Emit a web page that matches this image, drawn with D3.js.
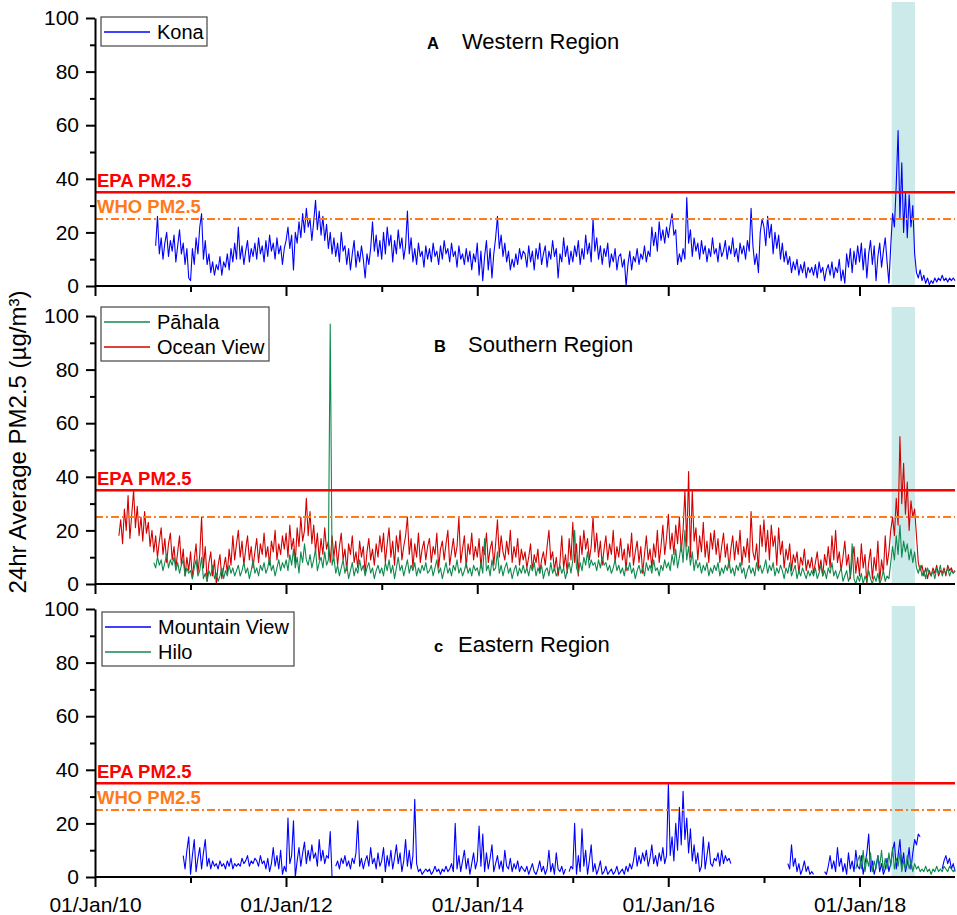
<!DOCTYPE html>
<html><head><meta charset="utf-8">
<script src="https://cdn.jsdelivr.net/npm/d3@7"></script>
<style>body{margin:0;background:#fff}svg{display:block}</style>
</head><body>
<svg id="chart" width="957" height="915"></svg>
<script>
const _ = null;
// ---------- data ----------
const weekOrigin = "2010-01-01";          // index 0 of every weekly series
const stepDays = 365.25 / 52;             // one step = one week (26 steps = half a year)
const xDomain = ["2010-01-01", "2019-01-01"];
const yTicks = [0, 20, 40, 60, 80, 100];
const yMinorTicks = [10, 30, 50, 70, 90];
const xMajorTicks = ["2010-01-01", "2012-01-01", "2014-01-01", "2016-01-01", "2018-01-01"];
const xMinorTicks = ["2011-01-01", "2013-01-01", "2015-01-01", "2017-01-01"];
const xTickLabels = ["01/Jan/10", "01/Jan/12", "01/Jan/14", "01/Jan/16", "01/Jan/18"];
const epaLimit = 35;
const whoLimit = 25;
const eruptionPeriod = ["2018-05-04", "2018-08-01"];
const panelLetters = ["A", "B", "c"];
const panelTitles = ["Western Region", "Southern Region", "Eastern Region"];
const yAxisTitle = "24hr Average PM2.5 (µg/m³)";

// weekly 24hr-average PM2.5, one line = half a year
const konaFirstWeek = 26;
const kona = [
 _,_,_,_,_,_,_,15,26,12,18,10,16,20,11,17,13,19,9,15,21,12,16,8,14,3,
 2,14,8,18,12,22,27,10,17,8,12,5,9,4,8,6,11,4,9,7,12,6,14,9,16,10,
 22,10,15,8,13,17,9,14,11,16,10,18,12,15,9,17,11,19,13,16,10,18,12,15,8,14,
 17,22,14,19,6,20,16,24,18,27,20,29,22,25,17,24,32,21,28,19,26,17,23,14,20,12,
 18,11,16,9,20,13,15,8,14,6,12,17,7,13,9,15,10,3,12,8,14,24,13,19,11,17,
 10,20,12,22,15,19,9,17,12,21,14,18,10,15,28,12,18,9,14,8,16,11,13,7,15,10,
 14,9,16,11,13,8,15,10,17,12,14,9,16,11,13,7,15,10,12,8,14,9,13,6,12,9,
 16,4,13,2,11,17,6,14,3,12,18,26,14,19,11,16,9,13,6,10,7,12,8,14,10,13,
 12,7,15,9,13,6,14,10,16,8,12,15,7,13,10,17,11,14,3,12,9,18,11,15,8,13,
 9,15,11,17,8,14,10,19,12,16,9,25,13,18,10,15,8,14,11,16,7,12,9,14,6,11,
 12,7,10,0,8,13,6,11,9,14,8,12,10,15,9,13,11,22,15,20,13,24,17,21,16,22,
 18,23,27,19,21,8,12,9,14,10,33,16,21,11,18,13,16,10,17,12,15,9,14,11,18,12,
 14,9,16,11,13,17,10,15,12,18,11,14,9,16,12,15,10,17,13,29,15,8,12,5,20,25,
 22,15,26,18,23,12,20,14,19,10,16,9,13,8,11,5,9,6,10,4,8,5,9,3,7,5,
 7,4,8,3,9,5,7,2,6,8,4,9,3,7,5,10,2,6,1,12,7,14,5,13,8,15,
 9,16,6,14,3,12,17,8,15,2,11,16,7,13,18,9,1,15,27,22,38,58,25,46,20,35,
 18,34,22,30,12,5,3,6,2,4,1,3,0.5,2,1,3,1.5,3,2,4,2,3,1.5,3,2,3,
 2
];
const oceanViewFirstWeek = 0;
const oceanView = [
 _,_,_,_,_,_,_,_,_,_,_,_,_,18,24,15,28,20,33,17,26,35,21,29,18,25,
 16,27,19,23,14,20,12,18,10,16,21,11,17,8,15,19,9,14,6,12,18,7,13,3,10,5,
 12,2,9,15,4,11,25,6,14,1,8,12,3,9,0,7,11,2,6,10,4,13,7,18,9,15,
 20,10,16,7,13,18,9,14,6,12,17,8,15,11,19,10,14,7,16,12,20,9,15,11,18,13,
 19,10,22,13,17,8,21,14,25,16,20,32,18,27,15,22,12,19,9,17,11,21,13,16,8,18,
 10,16,7,14,19,9,13,5,15,11,18,8,12,6,16,10,14,4,12,17,9,13,7,15,10,18,
 12,19,8,15,21,10,16,7,18,12,20,9,14,18,25,11,17,6,15,10,19,8,13,16,9,14,
 17,8,14,11,19,6,13,16,9,15,20,7,12,17,10,14,25,8,13,18,6,15,11,19,9,14,
 10,17,6,14,11,19,8,13,16,7,15,24,10,18,12,9,16,11,20,8,14,10,17,7,13,9,
 12,6,10,15,5,11,8,13,4,9,12,7,14,20,9,12,5,10,3,8,18,6,11,4,17,9,
 23,8,15,3,18,11,20,13,17,9,14,25,12,19,10,16,7,13,18,9,15,11,20,8,14,10,
 17,9,13,5,15,10,19,7,12,16,8,14,4,11,18,9,13,6,15,10,20,8,14,22,11,17,
 26,13,19,11,22,15,25,12,20,35,14,42,10,35,16,21,9,18,12,23,10,16,8,19,13,20,
 11,17,8,14,19,10,15,6,13,18,9,16,11,20,7,14,10,17,8,27,12,9,15,5,22,14,
 24,12,20,9,22,14,18,7,21,11,16,6,13,9,15,5,11,8,12,4,10,7,13,5,9,6,
 10,4,8,12,5,9,3,11,7,14,6,18,9,20,8,12,5,10,16,7,11,2,9,14,4,10,
 3,15,6,11,0,8,13,2,10,5,16,1,9,4,18,7,12,20,25,18,32,22,55,30,45,26,
 38,20,31,25,28,18,8,5,7,3,6,2,5,3,6,4,7,3,5,4,6,3,7,5,6,4,
 5
];
const pahalaFirstWeek = 26;
const pahala = [
 _,_,_,_,_,_,8,6,10,7,9,5,8,11,6,9,7,10,5,8,4,7,9,3,6,4,
 5,2,6,9,3,5,10,2,4,1,5,3,7,2,4,1,3,6,2,5,3,7,4,6,3,5,
 7,3,5,8,4,6,2,5,9,4,6,3,7,5,8,4,6,10,5,7,3,6,9,5,8,6,
 9,5,11,7,13,6,10,4,12,8,15,9,7,11,6,9,13,5,8,10,6,12,7,9,97,7,
 10,4,7,3,6,9,4,7,2,5,8,3,6,4,9,5,7,3,6,8,4,6,2,5,7,4,
 6,3,8,5,9,4,7,2,6,10,5,7,3,6,9,4,7,5,8,3,6,4,7,5,8,4,
 5,7,3,6,9,4,6,2,5,8,4,6,3,7,5,9,4,6,3,5,8,4,6,3,7,5,
 6,3,8,4,17,5,7,3,9,5,6,12,4,7,3,6,8,4,6,2,5,7,3,6,4,7,
 4,6,3,7,5,8,3,6,4,7,2,5,6,3,8,4,6,3,5,7,4,6,2,5,8,4,
 9,20,6,4,8,5,10,7,12,6,9,7,8,5,9,6,10,7,8,5,7,4,6,9,5,7,
 4,6,3,7,5,8,4,6,2,5,7,4,6,3,8,5,7,4,9,5,6,3,7,5,9,6,
 8,5,11,7,13,6,10,15,8,20,9,14,7,12,5,9,6,8,4,7,5,8,3,6,4,7,
 5,8,3,6,4,7,5,9,4,6,3,7,5,8,4,6,2,5,7,4,6,3,8,5,7,4,
 6,9,4,7,5,8,3,6,4,7,5,2,6,4,8,3,5,7,2,5,3,6,4,2,5,3,
 5,3,6,2,4,7,3,5,2,6,4,8,3,5,2,4,6,1,3,5,1,3,15,2,0,3,
 1,4,0,3,1,5,2,0,3,1,4,0,2,5,1,3,2,8,14,9,18,11,22,10,16,12,
 15,9,13,8,12,6,4,7,3,5,2,6,4,3,5,2,6,4,7,3,5,4,6,3,5,4,
 5
];
const mountainViewFirstWeek = 26;
const mountainView = [
 _,_,_,_,_,_,_,_,_,_,_,_,_,_,_,_,_,_,_,_,_,_,8,3,10,15,
 1,8,14,2,7,11,3,9,14,4,7,3,6,4,5,3,6,4,5,3,6,4,7,3,5,4,
 5,4,7,5,6,8,4,6,5,7,6,4,8,5,6,3,7,2,5,11,4,8,3,10,1,4,
 2,22,5,8,21,0,6,11,4,9,13,5,10,6,12,7,9,4,14,6,10,5,8,7,17,0,
 _,4,6,3,7,5,8,4,6,3,7,5,9,21,4,7,3,6,8,4,11,5,7,3,9,4,
 6,11,2,8,4,10,3,7,12,5,9,2,6,14,4,10,3,8,29,5,2,3,1,2,3,2,
 3,1,2,4,2,3,1,3,2,4,2,3,5,2,20,3,8,2,6,10,3,7,1,5,9,3,
 6,19,4,16,2,9,3,7,12,2,5,8,3,6,2,10,4,3,7,2,5,3,6,2,4,3,
 2,4,1,3,5,2,1,3,6,2,4,1,3,10,2,5,1,9,3,2,4,1,3,_,2,4,
 3,20,1,8,2,18,4,10,1,6,12,2,5,1,3,6,1,2,4,1,2,3,1,2,4,1,
 2,3,1,4,2,5,3,6,11,4,8,5,9,6,10,4,7,12,5,8,4,9,6,11,5,8,
 35,8,15,6,20,10,26,12,32,14,22,9,18,6,12,5,9,2,4,15,3,8,13,5,4,7,
 6,9,4,10,5,8,6,7,5,_,_,_,_,_,_,_,_,_,_,_,_,_,_,_,_,_,
 _,_,_,_,_,_,_,_,_,_,_,_,_,5,3,12,4,7,2,5,1,3,6,2,4,1,
 2,1,_,_,1,_,_,2,1,4,8,3,6,2,11,4,7,2,5,1,9,3,6,2,10,4,
 3,8,1,5,9,16,2,6,1,4,8,2,5,1,3,7,2,5,10,13,3,8,14,4,9,2,
 5,11,3,9,14,12,16,15,_,_,_,_,_,_,_,_,_,_,_,3,6,8,5,7,3,5,
 2
];
const hiloFirstWeek = 390;
const hilo = [
 _,_,_,_,_,_,_,_,_,_,_,_,_,_,_,_,_,_,_,_,_,_,_,_,3,6,
 8,3,10,2,7,4,9,2,6,3,8,4,10,2,7,3,9,4,11,3,7,4,9,2,6,3,
 8,3,6,2,5,3,4,2,3,2,4,2,3,1,3,2,4,2,3,2,4,3,2,4,3,2,
 3
];

// ---------- layout / style ----------
const FONT = "'Liberation Sans', Arial, Helvetica, sans-serif";
const BLUE = "#0000ff", GREEN = "#0f8a4e", RED = "#d40000";
const EPA_COLOR = "#ff0000", WHO_COLOR = "#ff7a1a";
const LEFT = 95, RIGHT = 955;
const panels = [
  { top: 18, bottom: 286, shadeTop: 2, letterX: 427, titleX: 462, titleY: 49, whoLabel: true,
    legend: { x: 101, y: 17, w: 106 },
    series: [{ name: "Kona", values: kona, first: konaFirstWeek, color: BLUE }] },
  { top: 316, bottom: 584, shadeTop: 307, letterX: 434, titleX: 468, titleY: 352, whoLabel: false,
    legend: { x: 101, y: 307, w: 168 },
    series: [{ name: "Pāhala", values: pahala, first: pahalaFirstWeek, color: GREEN },
             { name: "Ocean View", values: oceanView, first: oceanViewFirstWeek, color: RED }],
    drawOrder: [1, 0] },
  { top: 609, bottom: 877, shadeTop: 606, letterX: 434, titleX: 458, titleY: 652, whoLabel: true,
    legend: { x: 102, y: 612, w: 192 },
    series: [{ name: "Mountain View", values: mountainView, first: mountainViewFirstWeek, color: BLUE },
             { name: "Hilo", values: hilo, first: hiloFirstWeek, color: GREEN }],
    drawOrder: [0, 1] }
];

const parse = d3.timeParse("%Y-%m-%d");
const origin = parse(weekOrigin);
const toPoints = (vals, first) => vals.map((v, i) => ({
  t: new Date(origin.getTime() + (first + i) * stepDays * 864e5), v }));

const svg = d3.select("#chart");
const x = d3.scaleTime().domain(xDomain.map(parse)).range([LEFT, RIGHT]);

panels.forEach((p, pi) => {
  const y = d3.scaleLinear().domain([0, 100]).range([p.bottom, p.top]);
  const g = svg.append("g");

  // eruption shading
  g.append("rect")
    .attr("x", x(parse(eruptionPeriod[0])))
    .attr("width", x(parse(eruptionPeriod[1])) - x(parse(eruptionPeriod[0])))
    .attr("y", p.shadeTop).attr("height", p.bottom - p.shadeTop)
    .attr("fill", "#cdeaea");

  // data lines
  const line = d3.line().defined(d => d.v != null).x(d => x(d.t)).y(d => y(d.v));
  const order = p.drawOrder || p.series.map((s, i) => i);
  order.forEach(si => {
    const s = p.series[si];
    g.append("path").datum(toPoints(s.values, s.first))
      .attr("d", line).attr("fill", "none")
      .attr("stroke", s.color).attr("stroke-width", 1.1).attr("stroke-linejoin", "round");
  });

  // threshold lines
  g.append("line").attr("x1", LEFT).attr("x2", RIGHT).attr("y1", y(epaLimit)).attr("y2", y(epaLimit))
    .attr("stroke", EPA_COLOR).attr("stroke-width", 2.4);
  g.append("line").attr("x1", LEFT).attr("x2", RIGHT).attr("y1", y(whoLimit)).attr("y2", y(whoLimit))
    .attr("stroke", WHO_COLOR).attr("stroke-width", 2).attr("stroke-dasharray", "8,3,2,3");
  g.append("text").attr("x", 97).attr("y", y(epaLimit) - 5)
    .attr("font-family", FONT).attr("font-weight", "bold").attr("font-size", 18.5)
    .attr("fill", EPA_COLOR).text("EPA PM2.5");
  if (p.whoLabel) {
    g.append("text").attr("x", 97).attr("y", y(whoLimit) - 6)
      .attr("font-family", FONT).attr("font-weight", "bold").attr("font-size", 18.5)
      .attr("fill", WHO_COLOR).text("WHO PM2.5");
  }

  // y axis
  const ya = g.append("g").attr("transform", `translate(${LEFT},0)`)
    .call(d3.axisLeft(y).tickValues(yTicks).tickSize(9).tickSizeOuter(0).tickPadding(7).tickFormat(d3.format("d")));
  const ym = g.append("g").attr("transform", `translate(${LEFT},0)`)
    .call(d3.axisLeft(y).tickValues(yMinorTicks).tickSize(5).tickSizeOuter(0).tickFormat(""));
  ym.select(".domain").remove();

  // x axis
  const isLast = pi === panels.length - 1;
  const xa = g.append("g").attr("transform", `translate(0,${p.bottom})`)
    .call(d3.axisBottom(x).tickValues(xMajorTicks.map(parse)).tickSize(10).tickSizeOuter(0).tickPadding(10)
      .tickFormat((d, i) => isLast ? xTickLabels[i] : ""));
  const xm = g.append("g").attr("transform", `translate(0,${p.bottom})`)
    .call(d3.axisBottom(x).tickValues(xMinorTicks.map(parse)).tickSize(6).tickSizeOuter(0).tickFormat(""));
  xm.select(".domain").remove();

  [ya, ym, xa, xm].forEach(a => {
    a.selectAll("path,line").attr("stroke", "#000").attr("stroke-width", 2);
    a.selectAll("text").attr("font-family", FONT).attr("font-size", 21).attr("fill", "#000");
  });
  xa.select(".domain").attr("d", `M${LEFT},0H${RIGHT}`);

  // panel title
  g.append("text").attr("x", p.letterX).attr("y", p.titleY)
    .attr("font-family", FONT).attr("font-weight", "bold").attr("font-size", 16.5).text(panelLetters[pi]);
  g.append("text").attr("x", p.titleX).attr("y", p.titleY)
    .attr("font-family", FONT).attr("font-size", 22).text(panelTitles[pi]);

  // legend
  const L = p.legend, rowH = 25;
  const lg = g.append("g");
  lg.append("rect").attr("x", L.x).attr("y", L.y).attr("width", L.w)
    .attr("height", 4 + rowH * p.series.length)
    .attr("fill", "#fff").attr("stroke", "#444").attr("stroke-width", 1.2);
  p.series.forEach((s, i) => {
    const cy = L.y + 15 + i * rowH;
    lg.append("line").attr("x1", L.x + 3).attr("x2", L.x + 49).attr("y1", cy).attr("y2", cy)
      .attr("stroke", s.color).attr("stroke-width", 1.3);
    lg.append("text").attr("x", L.x + 56).attr("y", cy + 7)
      .attr("font-family", FONT).attr("font-size", 20).attr("fill", "#000").text(s.name);
  });
});

// y axis title
svg.append("text").attr("transform", "translate(26,442) rotate(-90)")
  .attr("text-anchor", "middle").attr("font-family", FONT).attr("font-size", 24).text(yAxisTitle);
</script>
</body></html>
